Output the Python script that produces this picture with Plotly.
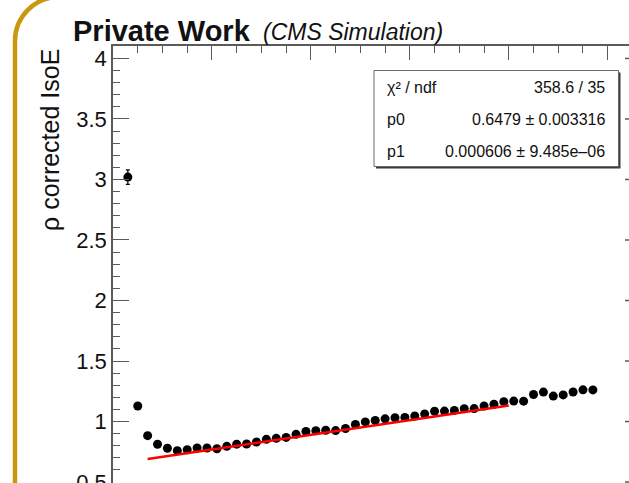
import plotly.graph_objects as go

# Binned profile: bin centres, rho-corrected IsoE per bin and its statistical error
bin_centres = [30, 50, 70, 90, 110, 130, 150, 170, 190, 210, 230, 250, 270, 290, 310, 330,
               350, 370, 390, 410, 430, 450, 470, 490, 510, 530, 550, 570, 590, 610, 630, 650,
               670, 690, 710, 730, 750, 770, 790, 810, 830, 850, 870, 890, 910, 930, 950, 970]
iso_values = [3.02, 1.128, 0.883, 0.812, 0.779, 0.759, 0.767, 0.781, 0.781, 0.775, 0.795, 0.813,
              0.814, 0.831, 0.853, 0.861, 0.869, 0.894, 0.918, 0.924, 0.928, 0.925, 0.942, 0.975,
              0.997, 1.008, 1.022, 1.031, 1.034, 1.046, 1.063, 1.085, 1.086, 1.092, 1.106, 1.107,
              1.128, 1.143, 1.164, 1.169, 1.168, 1.223, 1.243, 1.210, 1.220, 1.244, 1.262, 1.261]
iso_errors = [0.06, 0.012, 0.006, 0.004, 0.004, 0.004, 0.004, 0.004, 0.004, 0.004, 0.004, 0.004,
              0.004, 0.004, 0.004, 0.004, 0.004, 0.004, 0.004, 0.004, 0.004, 0.004, 0.004, 0.004,
              0.004, 0.004, 0.004, 0.004, 0.004, 0.004, 0.004, 0.005, 0.005, 0.005, 0.005, 0.005,
              0.005, 0.006, 0.006, 0.006, 0.006, 0.007, 0.007, 0.007, 0.008, 0.008, 0.009, 0.009]

# Linear fit result pol1: p0 + p1 * x over the fit range
fit_p0, fit_p0_err = 0.6479, 0.003316
fit_p1, fit_p1_err = 0.000606, 9.485e-06
fit_chi2, fit_ndf = 358.6, 35
fit_range = [70, 800]

y_tick_values = [0.5, 1, 1.5, 2, 2.5, 3, 3.5, 4]
y_tick_labels = ["0.5", "1", "1.5", "2", "2.5", "3", "3.5", "4"]

# Canvas geometry (pixels)
W_FIG, H_FIG = 629, 483
M_L, M_T = 113, 46
PW, PH = W_FIG - M_L, H_FIG - M_T


def px(x):
    return (x - M_L) / PW


def py(y):
    return (H_FIG - y) / PH


FONT = "Liberation Sans, Arial, Helvetica, sans-serif"
AXIS_COL = "#5a5a5a"

fig = go.Figure()

fig.add_trace(go.Scatter(
    x=bin_centres, y=iso_values,
    mode="markers",
    marker=dict(color="black", size=9),
    error_y=dict(type="data", array=iso_errors, color="black", thickness=1.2, width=2),
    hoverinfo="x+y",
))

fit_x = fit_range
fit_y = [fit_p0 + fit_p1 * x for x in fit_x]
fig.add_trace(go.Scatter(
    x=fit_x, y=fit_y, mode="lines",
    line=dict(color="#ff0000", width=2.5),
))

shapes = []

# right-hand major ticks of the frame
for v in y_tick_values:
    shapes.append(dict(type="line", xref="paper", yref="y",
                       x0=px(625), x1=px(629.5), y0=v, y1=v,
                       line=dict(color=AXIS_COL, width=1.5)))

# statistics box with drop shadow
shapes.append(dict(type="rect", xref="paper", yref="paper",
                   x0=px(376), x1=px(620.5), y0=py(168.5), y1=py(72.5),
                   fillcolor="#3c3c3c", line=dict(width=0), layer="above"))
shapes.append(dict(type="rect", xref="paper", yref="paper",
                   x0=px(374), x1=px(618.5), y0=py(166.5), y1=py(70.5),
                   fillcolor="white", line=dict(color="#6a6a6a", width=1), layer="above"))

# rounded slide frame on the left
R = 44
k = 0.5523 * R
xv, yc, ytop = 15, 41, -3
frame_path = (
    f"M {px(xv)},{py(495)} L {px(xv)},{py(yc)} "
    f"C {px(xv)},{py(yc - k)} {px(xv + R - k)},{py(ytop)} {px(xv + R)},{py(ytop)} "
    f"L {px(700)},{py(ytop)}"
)
shapes.append(dict(type="path", xref="paper", yref="paper", path=frame_path,
                   line=dict(color="#c9980e", width=4.5), layer="above"))

annotations = [
    dict(text="<b>Private Work</b>", xref="paper", yref="paper",
         x=px(71), y=py(31), xanchor="left", yanchor="middle", showarrow=False,
         font=dict(family=FONT, size=29, color="#111111")),
    dict(text="<i>(CMS Simulation)</i>", xref="paper", yref="paper",
         x=px(261), y=py(32), xanchor="left", yanchor="middle", showarrow=False,
         font=dict(family=FONT, size=23, color="#111111")),
    dict(text="ρ corrected IsoE", xref="paper", yref="paper",
         x=px(50), y=py(47), xanchor="center", yanchor="top", textangle=-90,
         showarrow=False, font=dict(family=FONT, size=25, color="#111111")),
]

stat_rows = [
    ("χ² / ndf", f"{fit_chi2:.1f} / {fit_ndf}", 87),
    ("p0", f"{fit_p0} ± {fit_p0_err}", 119),
    ("p1", f"{fit_p1:.6f} ± {fit_p1_err:.3e}".replace("e-", "e–"), 151),
]
for left, right, yc_row in stat_rows:
    annotations.append(dict(text=left, xref="paper", yref="paper", x=px(385), y=py(yc_row),
                            xanchor="left", yanchor="middle", showarrow=False,
                            font=dict(family=FONT, size=16, color="#111111")))
    annotations.append(dict(text=right, xref="paper", yref="paper", x=px(607), y=py(yc_row),
                            xanchor="right", yanchor="middle", showarrow=False,
                            font=dict(family=FONT, size=16, color="#111111")))

fig.update_layout(
    width=W_FIG, height=H_FIG,
    margin=dict(l=M_L, r=0, t=M_T, b=0, pad=0, autoexpand=False),
    paper_bgcolor="white", plot_bgcolor="white",
    showlegend=False,
    shapes=shapes,
    annotations=annotations,
    xaxis=dict(
        range=[0, 1043], side="top", showline=True, linecolor=AXIS_COL, linewidth=1.5,
        ticks="inside", ticklen=14, tickwidth=1.3, tickcolor=AXIS_COL,
        tick0=0, dtick=200, showticklabels=False, showgrid=False, zeroline=False,
        automargin=False,
        minor=dict(ticks="inside", ticklen=7, tickwidth=1.1, tickcolor=AXIS_COL,
                   dtick=50, showgrid=False),
    ),
    yaxis=dict(
        range=[0.492, 4.103], showline=True, linecolor=AXIS_COL, linewidth=1.5,
        ticks="inside", ticklen=16, tickwidth=1.3, tickcolor=AXIS_COL,
        tickvals=y_tick_values, ticktext=y_tick_labels,
        tickfont=dict(family=FONT, size=22, color="#111111"),
        ticklabeloverflow="allow", automargin=False,
        showgrid=False, zeroline=False,
        minor=dict(ticks="inside", ticklen=7, tickwidth=1.1, tickcolor=AXIS_COL,
                   tick0=0, dtick=0.1, showgrid=False),
    ),
)

fig.write_html("out.html")
